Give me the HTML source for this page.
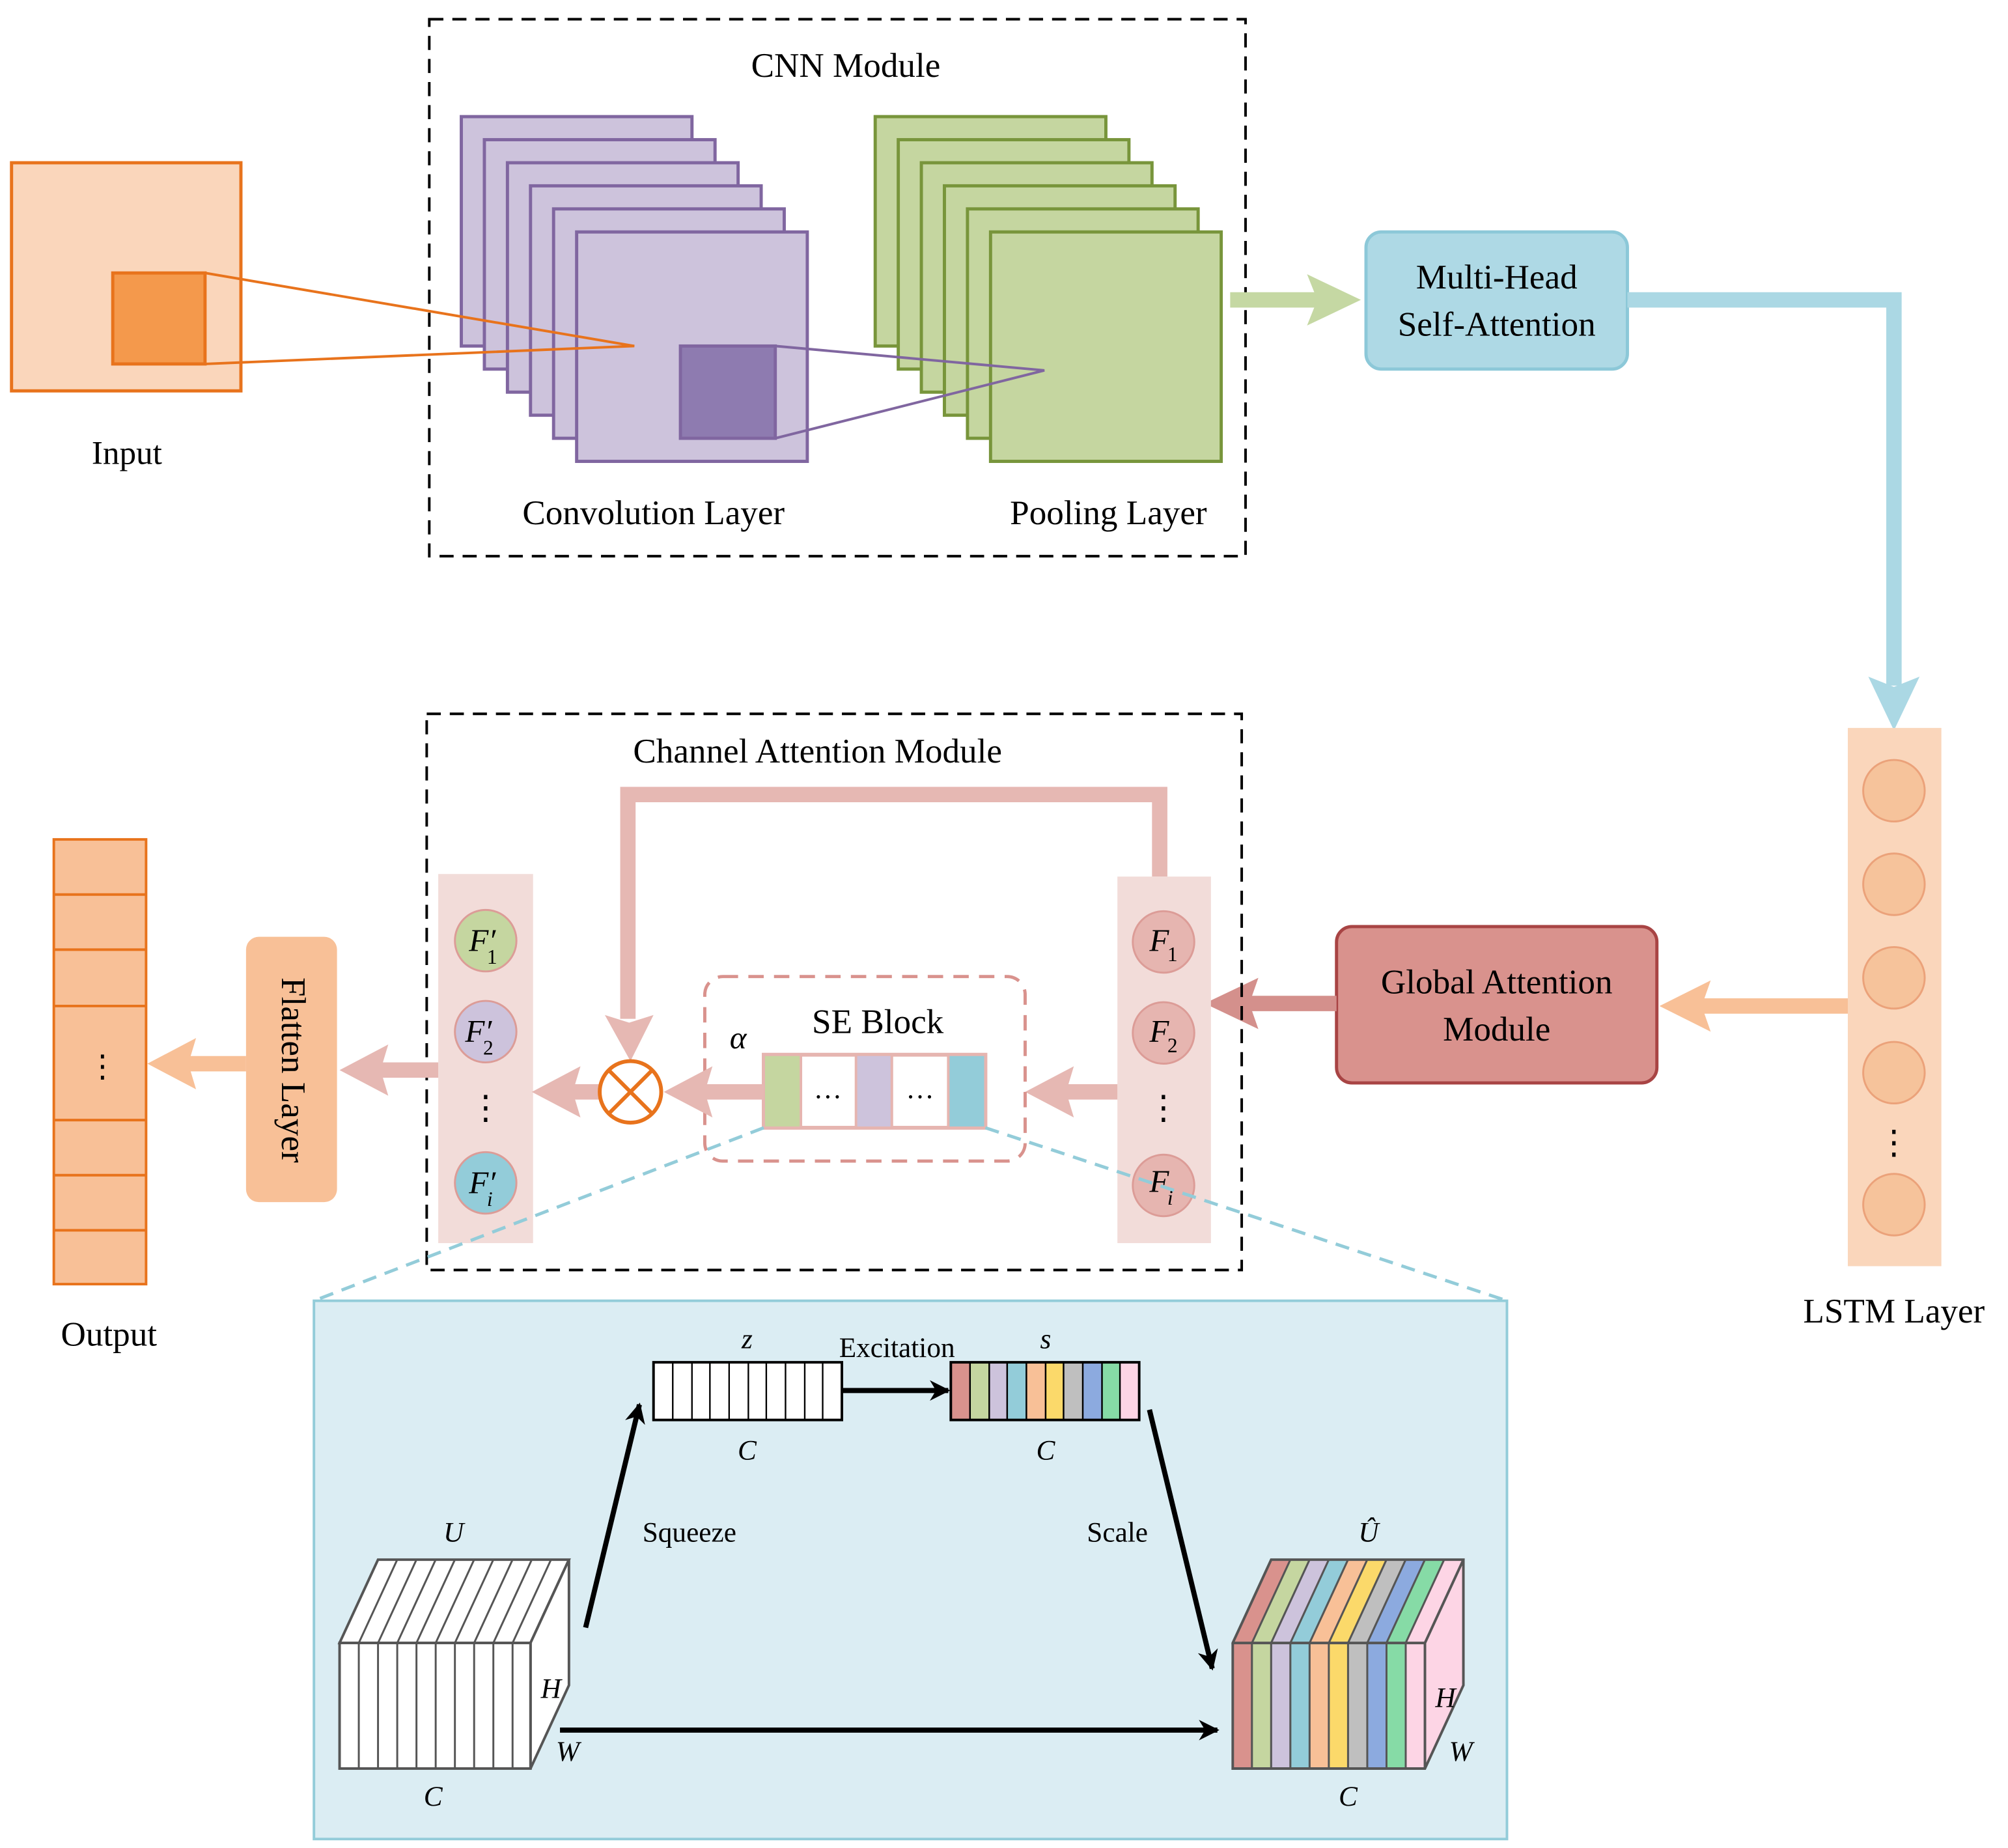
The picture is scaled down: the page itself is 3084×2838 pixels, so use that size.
<!DOCTYPE html>
<html><head><meta charset="utf-8"><style>
html,body{margin:0;padding:0;background:#fff;}
svg{display:block;}
svg text{font-family:"Liberation Serif","Times New Roman",serif;fill:#000;}
</style></head><body>
<svg width="3084" height="2838" viewBox="0 0 1567 1442" preserveAspectRatio="none" xmlns="http://www.w3.org/2000/svg" font-family="Liberation Serif, serif">
<defs>
<marker id="ah" viewBox="0 0 10 10" refX="9" refY="5" markerWidth="4" markerHeight="4" orient="auto" markerUnits="strokeWidth"><path d="M0,0 L10,5 L0,10 L3,5 Z" fill="#000"/></marker>
</defs>
<!-- Input -->
<rect x="9" y="127" width="179" height="178" fill="#fad6bb" stroke="#e8731c" stroke-width="2.5"/>
<rect x="88" y="213" width="72" height="71" fill="#f4994c" stroke="#e8731c" stroke-width="2.5"/>
<text x="99" y="362" font-size="26" text-anchor="middle">Input</text>

<!-- CNN module -->
<rect x="335" y="15" width="637" height="419" fill="none" stroke="#000" stroke-width="2" stroke-dasharray="11,7"/>
<text x="660" y="60" font-size="27" text-anchor="middle">CNN Module</text>
<g fill="#cdc3dc" stroke="#8066a0" stroke-width="2.5">
<rect x="360" y="91" width="180" height="179"/>
<rect x="378" y="109" width="180" height="179"/>
<rect x="396" y="127" width="180" height="179"/>
<rect x="414" y="145" width="180" height="179"/>
<rect x="432" y="163" width="180" height="179"/>
<rect x="450" y="181" width="180" height="179"/>
</g>
<rect x="531" y="270" width="74" height="72" fill="#8e7bb0" stroke="#8066a0" stroke-width="2.5"/>
<polyline points="160,213 495,270 160,284" fill="none" stroke="#e8731c" stroke-width="2"/>
<g fill="#c5d6a0" stroke="#78953b" stroke-width="2.5">
<rect x="683" y="91" width="180" height="179"/>
<rect x="701" y="109" width="180" height="179"/>
<rect x="719" y="127" width="180" height="179"/>
<rect x="737" y="145" width="180" height="179"/>
<rect x="755" y="163" width="180" height="179"/>
<rect x="773" y="181" width="180" height="179"/>
</g>
<polyline points="605,270 815,289 605,342" fill="none" stroke="#8066a0" stroke-width="2"/>
<text x="510" y="409" font-size="27" text-anchor="middle">Convolution Layer</text>
<text x="865" y="409" font-size="27" text-anchor="middle">Pooling Layer</text>

<!-- green arrow -->
<line x1="960" y1="234" x2="1030" y2="234" stroke="#c5d8a3" stroke-width="12"/>
<path d="M1020,214 L1062,234 L1020,254 L1028,234 Z" fill="#c5d8a3"/>
<!-- MHSA -->
<rect x="1066" y="181" width="204" height="107" rx="12" fill="#aed9e5" stroke="#8cc8d8" stroke-width="2.5"/>
<text x="1168" y="225" font-size="27" text-anchor="middle">Multi-Head</text>
<text x="1168" y="262" font-size="27" text-anchor="middle">Self-Attention</text>
<polyline points="1270,234 1478,234 1478,535" fill="none" stroke="#abd8e4" stroke-width="12"/>
<path d="M1458,528 L1478,570 L1498,528 L1478,536 Z" fill="#abd8e4"/>

<!-- LSTM -->
<rect x="1442" y="568" width="73" height="420" fill="#fad6bb"/>
<g fill="#f6c39b" stroke="#eba27a" stroke-width="1.5">
<circle cx="1478" cy="617" r="24"/><circle cx="1478" cy="690" r="24"/><circle cx="1478" cy="763" r="24"/><circle cx="1478" cy="837" r="24"/><circle cx="1478" cy="940" r="24"/>
</g>
<text x="1478" y="900" font-size="26" text-anchor="middle">⋮</text>
<text x="1478" y="1032" font-size="27" text-anchor="middle">LSTM Layer</text>

<line x1="1442" y1="785" x2="1325" y2="785" stroke="#f8c097" stroke-width="12"/>
<path d="M1335,765 L1295,785 L1335,805 L1328,785 Z" fill="#f8c097"/>
<rect x="1043" y="723" width="250" height="122" rx="12" fill="#d9928d" stroke="#a84444" stroke-width="2.5"/>
<text x="1168" y="775" font-size="27" text-anchor="middle">Global Attention</text>
<text x="1168" y="812" font-size="27" text-anchor="middle">Module</text>
<line x1="1043" y1="783" x2="975" y2="783" stroke="#d4908c" stroke-width="12"/>
<path d="M982,763 L940,783 L982,803 L975,783 Z" fill="#d4908c"/>

<!-- Channel attention module -->
<rect x="333" y="557" width="636" height="434" fill="none" stroke="#000" stroke-width="2" stroke-dasharray="11,7"/>
<text x="638" y="595" font-size="27" text-anchor="middle">Channel Attention Module</text>
<rect x="872" y="684" width="73" height="286" fill="#f2dcd9"/>
<rect x="342" y="682" width="74" height="288" fill="#f2dcd9"/>
<polyline points="905,684 905,620 490,620 490,795" fill="none" stroke="#e6b8b3" stroke-width="12"/>
<path d="M472,792 L492,828 L510,792 L491,798 Z" fill="#e6b8b3"/>
<g fill="#e6b5b0" stroke="#dc9c97" stroke-width="1.5">
<circle cx="908" cy="735" r="24"/><circle cx="908" cy="806" r="24"/><circle cx="908" cy="925" r="24"/>
</g>
<text x="897" y="742" font-size="25" font-style="italic">F</text><text x="911" y="750" font-size="16">1</text>
<text x="897" y="813" font-size="25" font-style="italic">F</text><text x="911" y="821" font-size="16">2</text>
<text x="897" y="930" font-size="25" font-style="italic">F</text><text x="911" y="940" font-size="16" font-style="italic">i</text>
<text x="908" y="873" font-size="26" text-anchor="middle">⋮</text>
<line x1="872" y1="852" x2="830" y2="852" stroke="#e6b8b3" stroke-width="12"/>
<path d="M838,832 L800,852 L838,872 L832,852 Z" fill="#e6b8b3"/>
<rect x="550" y="762" width="250" height="144" rx="14" fill="none" stroke="#d9928d" stroke-width="2.5" stroke-dasharray="12,8"/>
<text x="576" y="818" font-size="25" font-style="italic" text-anchor="middle">α</text>
<text x="685" y="806" font-size="27" text-anchor="middle">SE Block</text>
<rect x="596" y="823" width="173" height="57" fill="#fff" stroke="#e6b5b0" stroke-width="3"/>
<rect x="597" y="824" width="28" height="55" fill="#c5d6a0"/>
<rect x="668" y="824" width="28" height="55" fill="#cdc3dc"/>
<rect x="740" y="824" width="28" height="55" fill="#93ccd9"/>
<line x1="625" y1="823" x2="625" y2="880" stroke="#e6b5b0" stroke-width="2"/>
<line x1="668" y1="823" x2="668" y2="880" stroke="#e6b5b0" stroke-width="2"/>
<line x1="696" y1="823" x2="696" y2="880" stroke="#e6b5b0" stroke-width="2"/>
<line x1="740" y1="823" x2="740" y2="880" stroke="#e6b5b0" stroke-width="2"/>
<text x="646" y="857" font-size="22" text-anchor="middle">…</text>
<text x="718" y="857" font-size="22" text-anchor="middle">…</text>
<line x1="596" y1="852" x2="548" y2="852" stroke="#e6b8b3" stroke-width="12"/>
<path d="M556,832 L518,852 L556,872 L550,852 Z" fill="#e6b8b3"/>
<line x1="468" y1="852" x2="445" y2="852" stroke="#e6b8b3" stroke-width="12"/>
<path d="M453,832 L415,852 L453,872 L447,852 Z" fill="#e6b8b3"/>
<circle cx="492" cy="852" r="24" fill="#fff" stroke="#e8731c" stroke-width="3"/>
<line x1="475" y1="835" x2="509" y2="869" stroke="#e8731c" stroke-width="3"/>
<line x1="509" y1="835" x2="475" y2="869" stroke="#e8731c" stroke-width="3"/>

<circle cx="379" cy="734" r="24" fill="#c5d6a0" stroke="#dc9c97" stroke-width="1.5"/>
<circle cx="379" cy="805" r="24" fill="#cdc3dc" stroke="#dc9c97" stroke-width="1.5"/>
<circle cx="379" cy="923" r="24" fill="#93ccd9" stroke="#dc9c97" stroke-width="1.5"/>
<text x="366" y="742" font-size="25" font-style="italic">F′</text><text x="380" y="752" font-size="16">1</text>
<text x="363" y="813" font-size="25" font-style="italic">F′</text><text x="377" y="823" font-size="16">2</text>
<text x="366" y="931" font-size="25" font-style="italic">F′</text><text x="380" y="941" font-size="16" font-style="italic">i</text>
<text x="379" y="873" font-size="26" text-anchor="middle">⋮</text>
<line x1="342" y1="835" x2="295" y2="835" stroke="#e6b8b3" stroke-width="12"/>
<path d="M303,815 L265,835 L303,855 L297,835 Z" fill="#e6b8b3"/>
<rect x="192" y="731" width="71" height="207" rx="10" fill="#f8c097"/>
<text transform="translate(220,835) rotate(90)" font-size="27" text-anchor="middle">Flatten Layer</text>
<line x1="192" y1="830" x2="145" y2="830" stroke="#f8c097" stroke-width="12"/>
<path d="M153,810 L115,830 L153,850 L147,830 Z" fill="#f8c097"/>
<rect x="42" y="655" width="72" height="347" fill="#f8c097" stroke="#e8731c" stroke-width="2"/>
<g stroke="#e8731c" stroke-width="2">
<line x1="42" y1="698" x2="114" y2="698"/><line x1="42" y1="741" x2="114" y2="741"/><line x1="42" y1="785" x2="114" y2="785"/>
<line x1="42" y1="874" x2="114" y2="874"/><line x1="42" y1="917" x2="114" y2="917"/><line x1="42" y1="960" x2="114" y2="960"/>
</g>
<text x="80" y="840" font-size="24" text-anchor="middle">⋮</text>
<text x="85" y="1050" font-size="27" text-anchor="middle">Output</text>

<!-- SE detail panel -->
<rect x="245" y="1015" width="931" height="420" fill="#dbedf3" stroke="#93ccd9" stroke-width="2"/>
<line x1="596" y1="880" x2="245" y2="1015" stroke="#93ccd9" stroke-width="2.5" stroke-dasharray="11,7"/>
<line x1="769" y1="880" x2="1176" y2="1015" stroke="#93ccd9" stroke-width="2.5" stroke-dasharray="11,7"/>

<rect x="510" y="1063" width="147" height="45" fill="#fff" stroke="#000" stroke-width="2"/>
<g stroke="#000" stroke-width="1.2">
<line x1="525" y1="1063" x2="525" y2="1108"/><line x1="540" y1="1063" x2="540" y2="1108"/><line x1="554" y1="1063" x2="554" y2="1108"/><line x1="569" y1="1063" x2="569" y2="1108"/><line x1="584" y1="1063" x2="584" y2="1108"/><line x1="598" y1="1063" x2="598" y2="1108"/><line x1="613" y1="1063" x2="613" y2="1108"/><line x1="628" y1="1063" x2="628" y2="1108"/><line x1="642" y1="1063" x2="642" y2="1108"/>
</g>
<g stroke="#000" stroke-width="1.2">
<rect x="742" y="1063" width="15" height="45" fill="#d9928d"/><rect x="757" y="1063" width="15" height="45" fill="#c5d6a0"/><rect x="772" y="1063" width="14" height="45" fill="#cdc3dc"/><rect x="786" y="1063" width="15" height="45" fill="#93ccd9"/><rect x="801" y="1063" width="15" height="45" fill="#f8c097"/><rect x="816" y="1063" width="14" height="45" fill="#fbd96a"/><rect x="830" y="1063" width="15" height="45" fill="#bfbfbf"/><rect x="845" y="1063" width="15" height="45" fill="#8caadf"/><rect x="860" y="1063" width="14" height="45" fill="#86dba6"/><rect x="874" y="1063" width="15" height="45" fill="#fdd5e5"/>
</g>
<rect x="742" y="1063" width="147" height="45" fill="none" stroke="#000" stroke-width="2"/>
<text x="583" y="1052" font-size="22" font-style="italic" text-anchor="middle">z</text>
<text x="700" y="1059" font-size="22" text-anchor="middle">Excitation</text>
<text x="816" y="1052" font-size="22" font-style="italic" text-anchor="middle">s</text>
<text x="583" y="1139" font-size="22" font-style="italic" text-anchor="middle">C</text>
<text x="816" y="1139" font-size="22" font-style="italic" text-anchor="middle">C</text>
<line x1="657" y1="1085" x2="740" y2="1085" stroke="#000" stroke-width="4" marker-end="url(#ah)"/>
<line x1="457" y1="1270" x2="499" y2="1096" stroke="#000" stroke-width="4" marker-end="url(#ah)"/>
<line x1="897" y1="1100" x2="946" y2="1302" stroke="#000" stroke-width="4" marker-end="url(#ah)"/>
<text x="538" y="1203" font-size="22" text-anchor="middle">Squeeze</text>
<text x="872" y="1203" font-size="22" text-anchor="middle">Scale</text>

<!-- U cube -->
<g stroke="#555" stroke-width="2" fill="#fff">
<path d="M265,1282 L295,1217 L444,1217 L414,1282 Z"/>
<path d="M414,1282 L444,1217 L444,1315 L414,1380 Z"/>
<rect x="265" y="1282" width="149" height="98"/>
</g>
<g stroke="#555" stroke-width="1.5">
<line x1="280" y1="1282" x2="280" y2="1380"/><line x1="295" y1="1282" x2="295" y2="1380"/><line x1="310" y1="1282" x2="310" y2="1380"/><line x1="325" y1="1282" x2="325" y2="1380"/><line x1="340" y1="1282" x2="340" y2="1380"/><line x1="355" y1="1282" x2="355" y2="1380"/><line x1="370" y1="1282" x2="370" y2="1380"/><line x1="385" y1="1282" x2="385" y2="1380"/><line x1="400" y1="1282" x2="400" y2="1380"/>
<line x1="280" y1="1282" x2="310" y2="1217"/><line x1="295" y1="1282" x2="325" y2="1217"/><line x1="310" y1="1282" x2="340" y2="1217"/><line x1="325" y1="1282" x2="355" y2="1217"/><line x1="340" y1="1282" x2="370" y2="1217"/><line x1="355" y1="1282" x2="385" y2="1217"/><line x1="370" y1="1282" x2="400" y2="1217"/><line x1="385" y1="1282" x2="415" y2="1217"/><line x1="400" y1="1282" x2="430" y2="1217"/>
</g>
<text x="354" y="1203" font-size="22" font-style="italic" text-anchor="middle">U</text>
<text x="430" y="1325" font-size="22" font-style="italic" text-anchor="middle">H</text>
<text x="443" y="1374" font-size="22" font-style="italic" text-anchor="middle">W</text>
<text x="338" y="1409" font-size="22" font-style="italic" text-anchor="middle">C</text>
<line x1="437" y1="1350" x2="950" y2="1350" stroke="#000" stroke-width="4" marker-end="url(#ah)"/>

<!-- U hat cube -->
<g stroke="#555" stroke-width="1.5">
<path d="M962,1282 L992,1217 L1007,1217 L977,1282 Z" fill="#d9928d"/>
<path d="M977,1282 L1007,1217 L1022,1217 L992,1282 Z" fill="#c5d6a0"/>
<path d="M992,1282 L1022,1217 L1037,1217 L1007,1282 Z" fill="#cdc3dc"/>
<path d="M1007,1282 L1037,1217 L1052,1217 L1022,1282 Z" fill="#93ccd9"/>
<path d="M1022,1282 L1052,1217 L1067,1217 L1037,1282 Z" fill="#f8c097"/>
<path d="M1037,1282 L1067,1217 L1082,1217 L1052,1282 Z" fill="#fbd96a"/>
<path d="M1052,1282 L1082,1217 L1097,1217 L1067,1282 Z" fill="#bfbfbf"/>
<path d="M1067,1282 L1097,1217 L1112,1217 L1082,1282 Z" fill="#8caadf"/>
<path d="M1082,1282 L1112,1217 L1127,1217 L1097,1282 Z" fill="#86dba6"/>
<path d="M1097,1282 L1127,1217 L1142,1217 L1112,1282 Z" fill="#fdd5e5"/>
<path d="M1112,1282 L1142,1217 L1142,1315 L1112,1380 Z" fill="#fdd5e5"/>
<rect x="962" y="1282" width="15" height="98" fill="#d9928d"/><rect x="977" y="1282" width="15" height="98" fill="#c5d6a0"/><rect x="992" y="1282" width="15" height="98" fill="#cdc3dc"/><rect x="1007" y="1282" width="15" height="98" fill="#93ccd9"/><rect x="1022" y="1282" width="15" height="98" fill="#f8c097"/><rect x="1037" y="1282" width="15" height="98" fill="#fbd96a"/><rect x="1052" y="1282" width="15" height="98" fill="#bfbfbf"/><rect x="1067" y="1282" width="15" height="98" fill="#8caadf"/><rect x="1082" y="1282" width="15" height="98" fill="#86dba6"/><rect x="1097" y="1282" width="15" height="98" fill="#fdd5e5"/>
</g>
<path d="M962,1380 L962,1282 L992,1217 L1142,1217 L1142,1315 L1112,1380 Z M962,1282 L1112,1282 L1142,1217 M1112,1282 L1112,1380" fill="none" stroke="#555" stroke-width="2"/>
<text x="1068" y="1203" font-size="22" font-style="italic" text-anchor="middle">Û</text>
<text x="1128" y="1332" font-size="22" font-style="italic" text-anchor="middle">H</text>
<text x="1140" y="1374" font-size="22" font-style="italic" text-anchor="middle">W</text>
<text x="1052" y="1409" font-size="22" font-style="italic" text-anchor="middle">C</text>
</svg>
</body></html>
